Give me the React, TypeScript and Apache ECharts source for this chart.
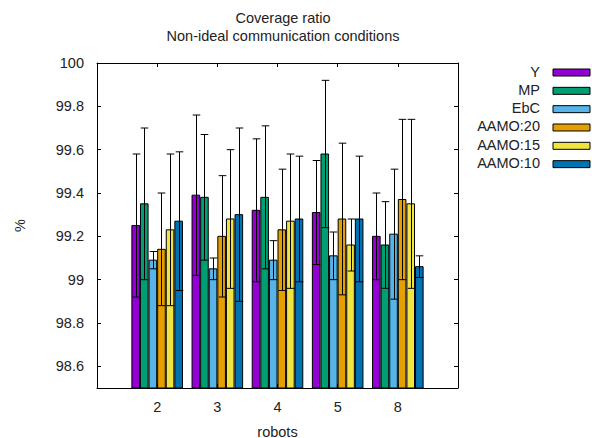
import React, { useEffect, useRef } from "react";
import * as echarts from "echarts";

const categories = ["2", "3", "4", "5", "8"];
const seriesNames = ["Y", "MP", "EbC", "AAMO:20", "AAMO:15", "AAMO:10"];
const colors = ["#9400d3", "#009e73", "#56b4e9", "#e69f00", "#f0e442", "#0072b2"];

const meanY = [99.25, 99.39, 99.32, 99.31, 99.2];
const errY = [0.33, 0.37, 0.33, 0.24, 0.2];
const meanMP = [99.35, 99.38, 99.38, 99.58, 99.16];
const errMP = [0.35, 0.29, 0.33, 0.34, 0.2];
const meanEbC = [99.09, 99.05, 99.09, 99.11, 99.21];
const errEbC = [0.04, 0.05, 0.09, 0.11, 0.3];
const meanA20 = [99.14, 99.2, 99.23, 99.28, 99.37];
const errA20 = [0.26, 0.28, 0.28, 0.35, 0.37];
const meanA15 = [99.23, 99.28, 99.27, 99.16, 99.35];
const errA15 = [0.35, 0.32, 0.31, 0.12, 0.39];
const meanA10 = [99.27, 99.3, 99.28, 99.28, 99.06];
const errA10 = [0.32, 0.4, 0.29, 0.29, 0.05];

const yTicks = [98.6, 98.8, 99, 99.2, 99.4, 99.6, 99.8, 100];
const yMin = 98.5;
const yMax = 100;

const means = [meanY, meanMP, meanEbC, meanA20, meanA15, meanA10];
const errs = [errY, errMP, errEbC, errA20, errA15, errA10];

const FONT = "Liberation Sans, Arial, sans-serif";
const FS = 14.5;
const TXT = "#222";

export default function App() {
  const ref = useRef<HTMLDivElement>(null);
  useEffect(() => {
    if (!ref.current) return;
    const chart = echarts.init(ref.current, undefined, { renderer: "svg" });
    const nS = seriesNames.length;
    const slotUnits = 1 / (nS + 1);
    const catIdx = categories.map((_, i) => i);

    const series = seriesNames.map((name, si) => ({
      type: "custom",
      name,
      xAxisIndex: 0,
      yAxisIndex: 0,
      data: categories.map((_, c) => [c, means[si][c], errs[si][c]]),
      renderItem: (params: any, api: any) => {
        const c = api.value(0);
        const m = api.value(1);
        const e = api.value(2);
        const x = c + (si - (nS - 1) / 2) * slotUnits;
        const slot = api.size([slotUnits, 0])[0];
        const w = slot - 1;
        const top = api.coord([x, m]);
        const base = api.coord([x, yMin]);
        const hi = api.coord([x, m + e]);
        const lo = api.coord([x, m - e]);
        const cx = Math.round(top[0]) + 0.5;
        const half = w / 2;
        return {
          type: "group",
          children: [
            {
              type: "rect",
              shape: { x: top[0] - w / 2, y: top[1], width: w, height: base[1] - top[1] },
              style: { fill: colors[si], stroke: "#000", lineWidth: 1 },
            },
            {
              type: "line",
              shape: { x1: cx, y1: hi[1], x2: cx, y2: lo[1] },
              style: { stroke: "#000", lineWidth: 1 },
            },
            {
              type: "line",
              shape: { x1: cx - half, y1: hi[1], x2: cx + half, y2: hi[1] },
              style: { stroke: "#000", lineWidth: 1 },
            },
            {
              type: "line",
              shape: { x1: cx - half, y1: lo[1], x2: cx + half, y2: lo[1] },
              style: { stroke: "#000", lineWidth: 1 },
            },
          ],
        };
      },
    }));

    const legendGraphics: any[] = [];
    seriesNames.forEach((n, i) => {
      const cy = 72.5 + i * 18.33;
      legendGraphics.push({
        type: "text",
        x: 540,
        y: cy - 1,
        style: {
          text: n,
          textAlign: "right",
          textVerticalAlign: "middle",
          fontSize: FS,
          fontFamily: FONT,
          fill: TXT,
        },
      });
      legendGraphics.push({
        type: "rect",
        shape: { x: 553, y: cy - 3.5, width: 37, height: 7 },
        style: { fill: colors[i], stroke: "#000", lineWidth: 1 },
      });
    });

    const axisLine = { show: true, onZero: false, lineStyle: { color: "#000", width: 1 } };

    chart.setOption({
      animation: false,
      title: {
        text: "Coverage ratio\nNon-ideal communication conditions",
        left: 278,
        top: 4,
        textAlign: "center",
        textStyle: {
          fontSize: FS,
          fontWeight: "normal",
          fontFamily: FONT,
          color: TXT,
          lineHeight: 18,
        },
      },
      grid: { left: 97, top: 63, width: 361, height: 325, outerBoundsMode: "none", containLabel: false },
      xAxis: [
        {
          type: "value",
          min: -1,
          max: 5,
          position: "bottom",
          axisLine,
          splitLine: { show: false },
          axisTick: { show: true, inside: true, length: 4, customValues: catIdx, lineStyle: { color: "#000" } },
          axisLabel: {
            show: true,
            customValues: catIdx,
            formatter: (v: number) => categories[Math.round(v)] ?? "",
            margin: 11,
            fontSize: FS,
            fontFamily: FONT,
            color: TXT,
          },
          name: "robots",
          nameLocation: "middle",
          nameGap: 36,
          nameTextStyle: { fontSize: FS, fontFamily: FONT, color: TXT },
        },
        {
          type: "value",
          min: -1,
          max: 5,
          position: "top",
          axisLine,
          splitLine: { show: false },
          axisTick: { show: true, inside: true, length: 4, customValues: catIdx, lineStyle: { color: "#000" } },
          axisLabel: { show: false },
        },
      ],
      yAxis: [
        {
          type: "value",
          min: yMin,
          max: yMax,
          position: "left",
          axisLine,
          splitLine: { show: false },
          axisTick: { show: true, inside: true, length: 4, customValues: yTicks, lineStyle: { color: "#000" } },
          axisLabel: {
            show: true,
            customValues: yTicks,
            margin: 13,
            fontSize: FS,
            fontFamily: FONT,
            color: TXT,
          },
          name: "%",
          nameLocation: "middle",
          nameRotate: 90,
          nameGap: 70,
          nameTextStyle: { fontSize: FS, fontFamily: FONT, color: TXT },
        },
        {
          type: "value",
          min: yMin,
          max: yMax,
          position: "right",
          axisLine,
          splitLine: { show: false },
          axisTick: { show: true, inside: true, length: 4, customValues: yTicks, lineStyle: { color: "#000" } },
          axisLabel: { show: false },
        },
      ],
      graphic: legendGraphics,
      series,
    });
    return () => chart.dispose();
  }, []);
  return (
    <div
      ref={ref}
      style={{ position: "absolute", left: 0, top: 0, width: 592, height: 438, background: "#fff" }}
    />
  );
}
